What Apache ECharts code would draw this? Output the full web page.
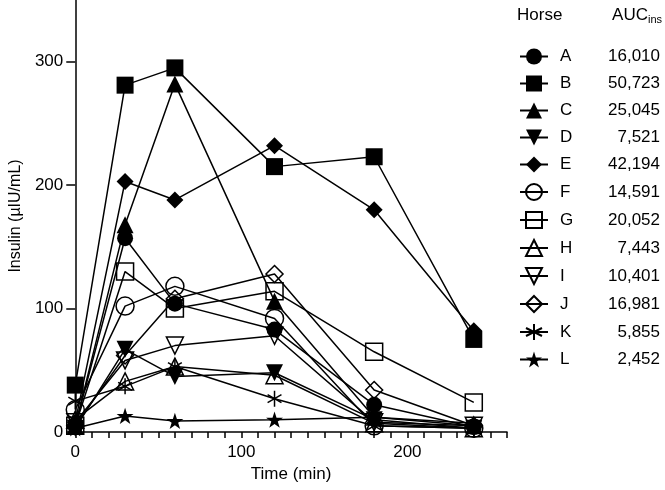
<!DOCTYPE html>
<html>
<head>
<meta charset="utf-8">
<script src="https://cdn.jsdelivr.net/npm/echarts@6/dist/echarts.min.js"></script>
<style>
  html, body { margin: 0; padding: 0; background: #fff; }
  #chart { width: 665px; height: 490px; }
</style>
</head>
<body>
<div id="chart"></div>
<script>
// sampling times (min)
const times = [0, 30, 60, 120, 180, 240]

const horses = ['A', 'B', 'C', 'D', 'E', 'F', 'G', 'H', 'I', 'J', 'K', 'L']
const aucIns = ['16,010', '50,723', '25,045', '7,521', '42,194', '14,591', '20,052', '7,443', '10,401', '16,981', '5,855', '2,452']

// insulin (µIU/mL) per horse, one value per time point
const horseA = [5, 157, 104, 83, 22, 4]
const horseB = [38, 281, 295, 215, 223, 75]
const horseC = [5, 168, 282, 106, 12, 5]
const horseD = [3, 67, 45, 48, 10, 3]
const horseE = [8, 203, 188, 232, 180, 82]
const horseF = [18, 102, 118, 92, 5, 3]
const horseG = [5, 130, 100, 114, 65, 24]
const horseH = [10, 41, 53, 46, 7, 3]
const horseI = [8, 58, 70, 78, 8, 5]
const horseJ = [5, 62, 108, 128, 34, 5]
const horseK = [25, 37, 53, 27, 5, 3]
const horseL = [3, 13, 9, 10, 12, 7]

const xTickLabels = [0, 100, 200]
const yTickLabels = [0, 100, 200, 300]

const values = [horseA, horseB, horseC, horseD, horseE, horseF, horseG, horseH, horseI, horseJ, horseK, horseL]

const FONT = 'Liberation Sans, Arial, Helvetica, sans-serif'
const STAR = 'path://M50 0L61.23 34.55L97.55 34.55L68.17 55.9L79.39 90.45L50 69.1L20.61 90.45L31.83 55.9L2.45 34.55L38.77 34.55Z'
const ASTERISK = 'path://M50 0L50 100M6.7 25L93.3 75M6.7 75L93.3 25'

// marker look for each horse
const markers = [
  { symbol: 'circle', size: 16, filled: true },
  { symbol: 'rect', size: 17, filled: true },
  { symbol: 'triangle', size: 17, filled: true },
  { symbol: 'triangle', size: 17, filled: true, rotate: 180 },
  { symbol: 'diamond', size: 17, filled: true },
  { symbol: 'circle', size: 18, filled: false },
  { symbol: 'rect', size: 17, filled: false },
  { symbol: 'triangle', size: 17, filled: false },
  { symbol: 'triangle', size: 17, filled: false, rotate: 180 },
  { symbol: 'diamond', size: 17, filled: false },
  { symbol: ASTERISK, size: 16, filled: false, stroke: true },
  { symbol: STAR, size: 17, filled: true },
]

const xMinorTicks = []
for (let t = 0; t <= 260; t += 10) xMinorTicks.push(t)

const chart = echarts.init(document.getElementById('chart'))

const series = horses.map((name, i) => {
  const m = markers[i]
  return {
    name,
    type: 'line',
    clip: false,
    data: times.map((t, j) => [t, values[i][j]]),
    symbol: m.symbol,
    symbolSize: m.size,
    symbolRotate: m.rotate || 0,
    symbolKeepAspect: true,
    showAllSymbol: true,
    lineStyle: { color: '#000', width: 1.5 },
    itemStyle: m.filled
      ? { color: '#000', borderWidth: 0 }
      : { color: m.stroke ? '#000' : 'rgba(0,0,0,0)', borderColor: '#000', borderWidth: 1.5 },
    emphasis: { disabled: true },
    animation: false,
  }
})

const option = {
  animation: false,
  textStyle: { fontFamily: FONT },
  grid: { left: 73, right: 158, top: 0, bottom: 58 },
  xAxis: {
    type: 'value',
    min: 0,
    max: 260,
    name: 'Time (min)',
    nameLocation: 'middle',
    nameGap: 29,
    nameTextStyle: { color: '#000', fontSize: 17, fontFamily: FONT },
    axisLine: { show: true, onZero: false, lineStyle: { color: '#000', width: 1.5 } },
    axisTick: { show: true, customValues: xMinorTicks, length: 6, lineStyle: { color: '#000', width: 1.5 } },
    axisLabel: { customValues: xTickLabels, color: '#000', fontSize: 17, margin: 12, fontFamily: FONT },
    splitLine: { show: false },
  },
  yAxis: {
    type: 'value',
    min: 0,
    max: 350,
    name: 'Insulin (µIU/mL)',
    nameLocation: 'middle',
    nameGap: 50,
    nameTextStyle: { color: '#000', fontSize: 16, fontFamily: FONT },
    axisLine: { show: true, onZero: false, lineStyle: { color: '#000', width: 1.5 } },
    axisTick: { show: true, customValues: yTickLabels, length: 9, lineStyle: { color: '#000', width: 1.5 } },
    axisLabel: { customValues: yTickLabels, color: '#000', fontSize: 17, margin: 12, fontFamily: FONT },
    splitLine: { show: false },
  },
  legend: {
    orient: 'vertical',
    left: 514,
    top: 43,
    itemWidth: 28,
    itemHeight: 20,
    itemGap: 10,
    selectedMode: false,
    data: horses,
    formatter: (name) => `{n|${name}}{v|${aucIns[horses.indexOf(name)]}}`,
    textStyle: {
      color: '#000',
      fontSize: 17,
      fontFamily: FONT,
      rich: {
        n: { width: 40, padding: [0, 0, 0, 7], fontSize: 17, color: '#000', fontFamily: FONT },
        v: { width: 60, align: 'right', fontSize: 17, color: '#000', fontFamily: FONT },
      },
    },
  },
  graphic: [
    {
      type: 'text',
      left: 517,
      top: 7,
      style: { text: 'Horse', fontSize: 17, fontFamily: FONT, fill: '#000' },
    },
    {
      type: 'text',
      right: 3,
      top: 7,
      style: {
        text: '{a|AUC}{s|ins}',
        fill: '#000',
        rich: {
          a: { fontSize: 17, fontFamily: FONT, fill: '#000' },
          s: { fontSize: 11, fontFamily: FONT, fill: '#000', padding: [9, 0, 0, 0] },
        },
      },
    },
  ],
  series,
}

chart.setOption(option)
</script>
</body>
</html>
